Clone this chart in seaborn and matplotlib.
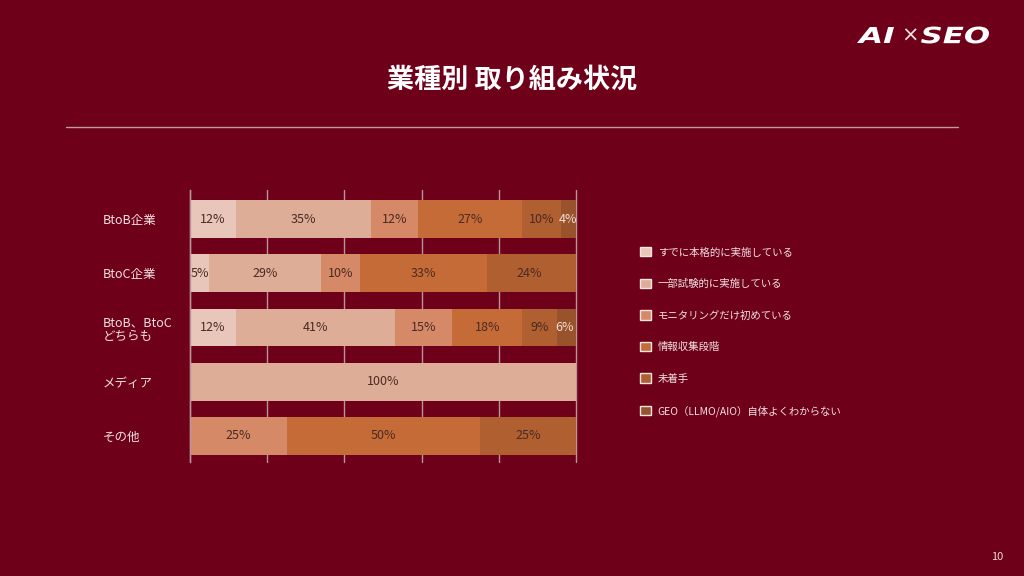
import matplotlib
matplotlib.use("Agg")
import matplotlib.pyplot as plt
import seaborn as sns
import numpy as np
import pandas as pd
from matplotlib.patches import Patch, PathPatch
from matplotlib.lines import Line2D
from matplotlib.textpath import TextPath
from matplotlib.font_manager import FontProperties
from matplotlib.transforms import Affine2D, IdentityTransform

categories = ["BtoB企業", "BtoC企業", "BtoB、BtoC\nどちらも", "メディア", "その他"]
series_names = ["すでに本格的に実施している", "一部試験的に実施している", "モニタリングだけ初めている",
                "情報収集段階", "未着手", "GEO（LLMO/AIO）自体よくわからない"]
s1 = [12, 5, 12, 0, 0]
s2 = [35, 29, 41, 100, 0]
s3 = [12, 10, 15, 0, 25]
s4 = [27, 33, 18, 0, 50]
s5 = [10, 24, 9, 0, 25]
s6 = [4, 0, 6, 0, 0]
series_values = [s1, s2, s3, s4, s5, s6]
colors = ["#E8C6BA", "#DEAD98", "#D68967", "#C56B37", "#AF5F30", "#98522C"]
label_colors = ["#4A2A22", "#4A2A22", "#4A2A22", "#4A2A22", "#4A2A22", "#F2DCD4"]

BG = "#6E0019"
GRID = "#B8949C"

sns.set_style("white")
plt.rcParams['font.family'] = ['Noto Sans CJK JP', 'DejaVu Sans']

fig = plt.figure(figsize=(10.24, 5.76), dpi=100, facecolor=BG)
ax = fig.add_axes([190/1024, 1-462/576, 386/1024, 272/576])
ax.set_facecolor(BG)

vals = np.array(series_values, dtype=float)
cum = np.cumsum(vals, axis=0)
order = list(range(len(series_names)))

# draw cumulative bars from outermost to innermost
for i in reversed(order):
    df = pd.DataFrame({"cat": categories, "cum": cum[i]})
    sns.barplot(data=df, y="cat", x="cum", color=colors[i], orient="h",
                width=0.7, ax=ax, saturation=1, edgecolor="none", linewidth=0, zorder=2)

# labels
for i in order:
    for j, v in enumerate(vals[i]):
        if v > 0:
            xc = cum[i][j] - v / 2
            if cum[i][j] > 100:
                xc = 100 - v / 2
            ax.text(xc, j, f"{int(v)}%", ha="center", va="center", fontsize=9,
                    color=label_colors[i], zorder=5)

ax.set_xlim(0, 100)
ax.set_ylim(4.48, -0.535)
ax.set_xticks([0, 20, 40, 60, 80, 100])
ax.tick_params(axis="x", length=0, labelbottom=False)
ax.grid(axis="x", color=GRID, linewidth=1, zorder=0)
ax.set_axisbelow(True)
for gl in ax.get_xgridlines():
    gl.set_clip_on(False)
for s in ["top", "right", "bottom"]:
    ax.spines[s].set_visible(False)
ax.spines["left"].set_color(GRID)
ax.spines["left"].set_linewidth(1)
ax.set_xlabel("")
ax.set_ylabel("")
ax.tick_params(axis="y", length=0, pad=63, labelsize=9, labelcolor="#F0E0E0")
for t in ax.get_yticklabels():
    t.set_ha("left")
    t.set_linespacing(1.1)

handles = [Patch(facecolor=colors[i], edgecolor="#F5E5E5", linewidth=1, label=series_names[i])
           for i in order]
leg = fig.legend(handles=handles, loc="upper left", bbox_to_anchor=(636/1024, 1-243/576),
                 frameon=False, fontsize=7.5, labelcolor="#F0E0E0", handlelength=1.0,
                 handleheight=1.0, handletextpad=0.7, labelspacing=2.05, borderaxespad=0)

# title & decorations
fig.text(0.5, 1-80/576, "業種別 取り組み状況", ha="center", va="center", fontsize=19.5,
         fontweight="bold", color="white")
fig.add_artist(Line2D([66/1024, 958/1024], [1-127/576, 1-127/576], color="#C09AA0", linewidth=1))

# logo drawn as stretched text paths (pixel coordinates, y up)
logo_fp = FontProperties(family="DejaVu Sans", weight="heavy", style="italic")
def logo_word(txt, x0, x1, y0, y1):
    p = TextPath((0, 0), txt, size=20, prop=logo_fp)
    e = p.get_extents()
    tr = (Affine2D().translate(-e.x0, -e.y0)
          .scale((x1 - x0) / e.width, (y1 - y0) / e.height)
          .translate(x0, y0))
    fig.add_artist(PathPatch(tr.transform_path(p), facecolor="white", edgecolor="none",
                             transform=IdentityTransform()))
logo_word("AI", 857, 894, 576-43, 576-27)
logo_word("SEO", 921, 989, 576-43.5, 576-26.5)
fig.text(910/1024, 1-35.5/576, "×", ha="center", va="center", fontsize=15, color="#F0E0E0",
         family="DejaVu Sans")
fig.text(997/1024, 1-557/576, "10", ha="center", va="center", fontsize=8, color="#F0D8D8")

fig.savefig("out.png", dpi=100, facecolor=BG)
